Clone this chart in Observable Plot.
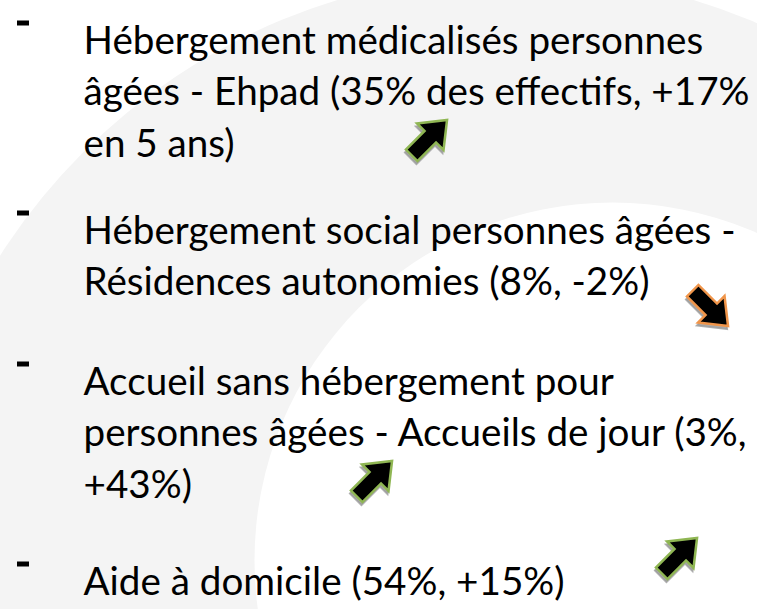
<!DOCTYPE html>
<html><head><meta charset="utf-8">
<script src="https://cdn.jsdelivr.net/npm/d3@7"></script>
<script src="https://cdn.jsdelivr.net/npm/@observablehq/plot@0.6"></script>
<style>
html,body{margin:0;padding:0;background:#fff;overflow:hidden;}
#chart svg{display:block;}
</style></head><body><div id="chart"></div>
<script>
// ---- data ----
const categories = [
  "Hébergement médicalisés personnes âgées - Ehpad",
  "Hébergement social personnes âgées - Résidences autonomies",
  "Accueil sans hébergement pour personnes âgées - Accueils de jour",
  "Aide à domicile"
];
const shareOfStaff = [35, 8, 3, 54];   // % des effectifs
const change5y = [17, -2, 43, 15];     // évolution en 5 ans (%)
const lineTexts = [
  ["Hébergement médicalisés personnes", "âgées - Ehpad (35% des effectifs, +17%", "en 5 ans)"],
  ["Hébergement social personnes âgées -", "Résidences autonomies (8%, -2%)"],
  ["Accueil sans hébergement pour", "personnes âgées - Accueils de jour (3%,", "+43%)"],
  ["Aide à domicile (54%, +15%)"]
];

// ---- layout (positions / styles) ----
const W = 757, H = 609;
const textX = 83;
const itemBaseline = [53, 243, 394, 594];
const lineHeight = 51.5;
const arrowPos = [[428, 138], [709, 307], [373, 479], [678, 556]];
const outerDisc = {cx: 515, cy: 585, r: 612};
const innerDisc = {cx: 612, cy: 560, r: 358};
const FONT = "Lato";

// fit font size so the first line matches the reference width
const ctx = document.createElement("canvas").getContext("2d");
ctx.font = `40px ${FONT}`;
const fontSize = Math.max(30, Math.min(46, 40 * 620 / ctx.measureText(lineTexts[0][0]).width));

const lines = lineTexts.flatMap((ls, i) => ls.map((t, j) => ({item: i, text: t, y: itemBaseline[i] + j * lineHeight})));
const items = categories.map((c, i) => ({
  category: c, share: shareOfStaff[i], change: change5y[i],
  ax: arrowPos[i][0], ay: arrowPos[i][1], dashY: itemBaseline[i] - 30
}));

const blockArrow = {
  draw(p, size) {
    const s = Math.sqrt(size / Math.PI) / 20;
    const pts = [[0, -21], [15, -2], [6.5, -2], [6.5, 19], [-6.5, 19], [-6.5, -2], [-15, -2]];
    p.moveTo(pts[0][0] * s, pts[0][1] * s);
    for (const [x, y] of pts.slice(1)) p.lineTo(x * s, y * s);
    p.closePath();
  }
};

const chart = Plot.plot({
  width: W, height: H, margin: 0,
  x: {type: "identity", axis: null},
  y: {type: "identity", axis: null},
  r: {type: "identity"},
  style: {background: "#fff", overflow: "hidden"},
  marks: [
    Plot.dot([outerDisc], {x: "cx", y: "cy", r: "r", fill: "#f4f4f4", stroke: null}),
    Plot.dot([innerDisc], {x: "cx", y: "cy", r: "r", fill: "#ffffff", stroke: null}),
    Plot.rect(items, {x1: 17, x2: 29, y1: d => d.dashY - 2.5, y2: d => d.dashY + 2.5, fill: "#000"}),
    Plot.text(lines, {x: textX, y: "y", text: "text", textAnchor: "start", lineAnchor: "bottom",
      fontSize, fontFamily: FONT, fill: "#000"}),
    // arrow shadows
    Plot.dot(items, {x: "ax", y: "ay", dx: -1, dy: 3, r: 25, symbol: blockArrow,
      rotate: d => d.change >= 0 ? 45 : 135, fill: "#9a9a9a", stroke: "#9a9a9a", strokeWidth: 2, fillOpacity: 0.8, strokeOpacity: 0.8}),
    // arrows
    Plot.dot(items, {x: "ax", y: "ay", r: 25, symbol: blockArrow,
      rotate: d => d.change >= 0 ? 45 : 135, fill: "#000",
      stroke: d => d.change >= 0 ? "#8fb653" : "#f0954a", strokeWidth: 2.5})
  ]
});
document.getElementById("chart").append(chart);
</script></body></html>
